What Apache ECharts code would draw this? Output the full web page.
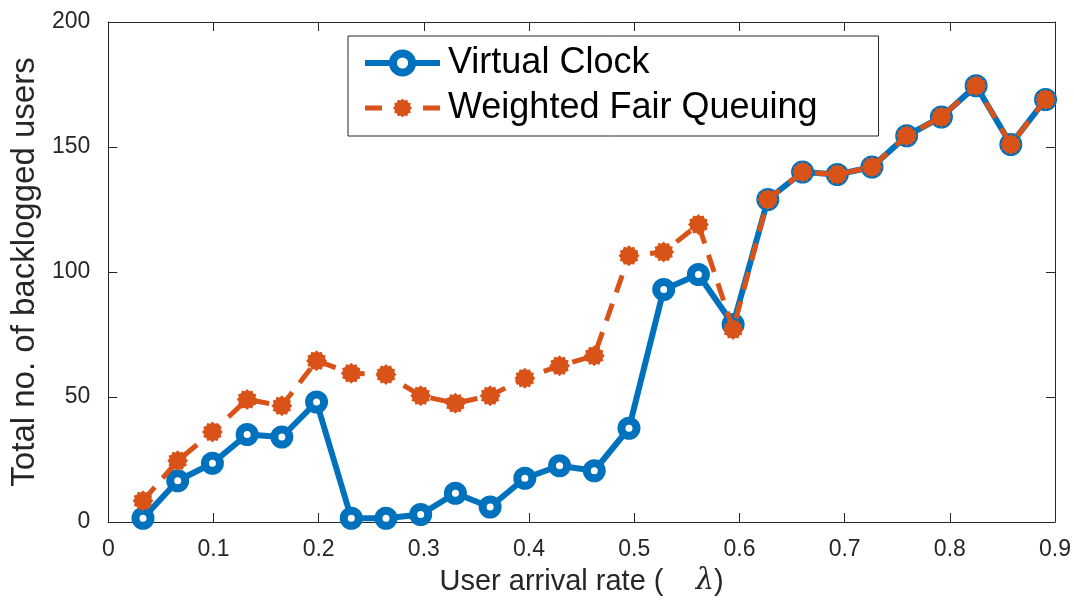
<!DOCTYPE html>
<html>
<head>
<meta charset="utf-8">
<script src="https://cdn.jsdelivr.net/npm/echarts@6/dist/echarts.min.js"></script>
<style>
  html, body { margin: 0; padding: 0; background: #fff; }
  #chart { width: 1074px; height: 601px; }
</style>
</head>
<body>
<div id="chart"></div>
<script>
// User arrival rate (lambda) samples
const arrivalRates = [0.033, 0.066, 0.099, 0.132, 0.165, 0.198, 0.231, 0.264, 0.297,
  0.330, 0.363, 0.396, 0.429, 0.462, 0.495, 0.528, 0.561, 0.594, 0.627, 0.660,
  0.693, 0.726, 0.759, 0.792, 0.825, 0.858, 0.891];

// Total number of backlogged users per scheduler
const virtualClock = [1.5, 16.5, 23.5, 35, 34, 48, 1.5, 1.5, 3, 11.5, 6, 17.5, 22.5,
  20.5, 37.5, 93, 99, 79, 129, 140, 139, 142, 154.5, 162, 174.5, 151, 169];
const weightedFairQueuing = [8.5, 24.5, 36, 49, 46.5, 64.5, 59.5, 59, 50.5, 47.5, 50.5,
  57.5, 62.5, 66.5, 106.5, 108, 119, 77, 129, 140, 139, 142, 154.5, 162, 174.5, 151, 169];

const xTickLabels = ['0', '0.1', '0.2', '0.3', '0.4', '0.5', '0.6', '0.7', '0.8', '0.9'];
const yTickLabels = ['0', '50', '100', '150', '200'];

const BLUE = '#0072BD';
const ORANGE = '#D95319';
const AXIS = '#262626';
const FONT = '"Liberation Sans", Arial, Helvetica, sans-serif';

// Ragged asterisk-like blob used as the marker of the dashed series
function starPath(points, rOuter, rInner) {
  let d = '';
  const n = points * 2;
  for (let i = 0; i < n; i++) {
    const r = i % 2 === 0 ? rOuter : rInner;
    const a = Math.PI * 2 * i / n - Math.PI / 2;
    const x = 50 + r * Math.cos(a);
    const y = 50 + r * Math.sin(a);
    d += (i === 0 ? 'M' : 'L') + x.toFixed(2) + ' ' + y.toFixed(2) + ' ';
  }
  return 'path://' + d + 'Z';
}
const starSymbol = starPath(12, 50, 41);

const pairs = (xs, ys) => xs.map((x, i) => [x, ys[i]]);

const chart = echarts.init(document.getElementById('chart'), null, { renderer: 'canvas' });

const baseX = {
  type: 'value', min: 0, max: 0.9, interval: 0.1,
  axisLine: { show: true, onZero: false, lineStyle: { color: AXIS, width: 1 } },
  axisTick: { show: true, inside: true, length: 9, lineStyle: { color: AXIS } },
  splitLine: { show: false }
};
const baseY = {
  type: 'value', min: 0, max: 200, interval: 50,
  axisLine: { show: true, onZero: false, lineStyle: { color: AXIS, width: 1 } },
  axisTick: { show: true, inside: true, length: 9, lineStyle: { color: AXIS } },
  splitLine: { show: false }
};

chart.setOption({
  animation: false,
  backgroundColor: '#fff',
  grid: { left: 108, right: 18, top: 22, bottom: 79, containLabel: false },
  legend: {
    orient: 'vertical',
    left: 348,
    top: 36,
    backgroundColor: '#fff',
    borderColor: AXIS,
    borderWidth: 1,
    borderRadius: 0,
    padding: [9, 61, 10, 14],
    itemGap: 9,
    itemWidth: 75,
    itemHeight: 24,
    textStyle: { fontFamily: FONT, fontSize: 36, color: '#000', padding: [0, 0, 0, 3] },
    data: [
      {
        name: 'Virtual Clock',
        lineStyle: { color: BLUE, width: 6 },
        itemStyle: { color: '#fff', borderColor: BLUE, borderWidth: 8 }
      },
      {
        name: 'Weighted Fair Queuing',
        lineStyle: { color: ORANGE, width: 5, type: [17, 41] },
        itemStyle: { color: ORANGE, borderWidth: 0 }
      }
    ]
  },
  xAxis: [
    Object.assign({}, baseX, {
      position: 'bottom',
      axisLabel: {
        show: true, margin: 16, color: AXIS, fontFamily: FONT, fontSize: 23,
        formatter: v => xTickLabels[Math.round(v * 10)]
      },
      name: 'User arrival rate (    {l|λ})',
      nameLocation: 'middle',
      nameGap: 45,
      nameTextStyle: {
        fontFamily: FONT, fontSize: 29, color: AXIS,
        rich: { l: { fontFamily: '"DejaVu Serif", serif', fontStyle: 'italic', fontSize: 29, color: AXIS } }
      }
    }),
    Object.assign({}, baseX, { position: 'top', axisLabel: { show: false } })
  ],
  yAxis: [
    Object.assign({}, baseY, {
      position: 'left',
      axisLabel: {
        show: true, margin: 18, color: AXIS, fontFamily: FONT, fontSize: 23,
        formatter: v => yTickLabels[Math.round(v / 50)]
      },
      name: 'Total no. of backlogged users',
      nameLocation: 'middle',
      nameGap: 66,
      nameRotate: 90,
      nameTextStyle: { fontFamily: FONT, fontSize: 33, color: AXIS }
    }),
    Object.assign({}, baseY, { position: 'right', axisLabel: { show: false } })
  ],
  series: [
    {
      name: 'Virtual Clock',
      type: 'line',
      xAxisIndex: 0, yAxisIndex: 0,
      data: pairs(arrivalRates, virtualClock),
      symbol: 'circle',
      symbolSize: 15,
      showAllSymbol: true,
      lineStyle: { color: BLUE, width: 6 },
      itemStyle: { color: '#fff', borderColor: BLUE, borderWidth: 8 },
      z: 2
    },
    {
      name: 'Weighted Fair Queuing',
      type: 'line',
      xAxisIndex: 0, yAxisIndex: 0,
      data: pairs(arrivalRates, weightedFairQueuing),
      symbol: starSymbol,
      symbolSize: 21,
      showAllSymbol: true,
      lineStyle: { color: ORANGE, width: 5, type: [18, 12] },
      itemStyle: { color: ORANGE, borderWidth: 0 },
      z: 3
    }
  ]
});
</script>
</body>
</html>
